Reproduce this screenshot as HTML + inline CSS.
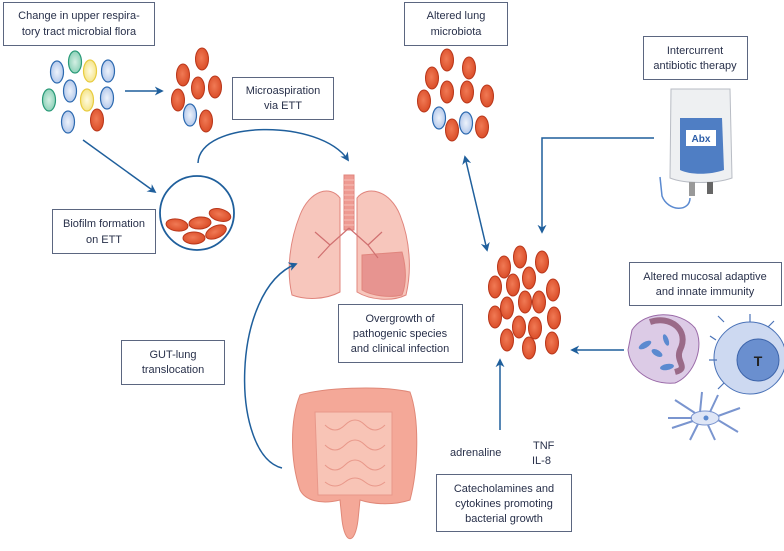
<!DOCTYPE html>
<html><head><meta charset="utf-8"><style>
html,body{margin:0;padding:0;background:#fff}
svg{display:block}
text{font-family:"Liberation Sans",sans-serif;font-size:11px;fill:#28304a}
.bx{fill:#fff;stroke:#5b6680;stroke-width:1}
.ar{fill:none;stroke:#1f5f9c;stroke-width:1.5}
.r{fill:url(#gr);stroke:#b8361a;stroke-width:1}
.b{fill:url(#gb);stroke:#2d6ab0;stroke-width:1.2}
.g{fill:url(#gg);stroke:#2a9a78;stroke-width:1.2}
.y{fill:url(#gy);stroke:#e8cc40;stroke-width:1.2}
</style></head><body>
<svg width="784" height="551" viewBox="0 0 784 551" xmlns="http://www.w3.org/2000/svg">
<defs>
<marker id="ah" viewBox="0 0 10 10" refX="8" refY="5" markerWidth="6" markerHeight="6" orient="auto-start-reverse"><path d="M0,0 L10,5 L0,10 L3,5z" fill="#1f5f9c"/></marker>
<radialGradient id="gr" cx="0.45" cy="0.45" r="0.6"><stop offset="0" stop-color="#f07a55"/><stop offset="1" stop-color="#d94a25"/></radialGradient>
<radialGradient id="gb" cx="0.5" cy="0.5" r="0.6"><stop offset="0" stop-color="#eef3fb"/><stop offset="1" stop-color="#a9c1e8"/></radialGradient>
<radialGradient id="gg" cx="0.5" cy="0.5" r="0.6"><stop offset="0" stop-color="#d4efe3"/><stop offset="1" stop-color="#7fcbb0"/></radialGradient>
<radialGradient id="gy" cx="0.5" cy="0.5" r="0.6"><stop offset="0" stop-color="#fffbe0"/><stop offset="1" stop-color="#f3e07a"/></radialGradient>
</defs>

<rect class="bx" x="3.5" y="2.5" width="151" height="43"/>
<text x="79" y="19" text-anchor="middle">Change in upper respira-</text>
<text x="79" y="35" text-anchor="middle">tory tract microbial flora</text>

<rect class="bx" x="232.5" y="77.5" width="101" height="42"/>
<text x="283" y="94" text-anchor="middle">Microaspiration</text>
<text x="283" y="109" text-anchor="middle">via ETT</text>

<rect class="bx" x="52.5" y="209.5" width="103" height="44"/>
<text x="104" y="227" text-anchor="middle">Biofilm formation</text>
<text x="104" y="243" text-anchor="middle">on ETT</text>

<rect class="bx" x="404.5" y="2.5" width="103" height="43"/>
<text x="456" y="19" text-anchor="middle">Altered lung</text>
<text x="456" y="35" text-anchor="middle">microbiota</text>

<rect class="bx" x="643.5" y="36.5" width="104" height="43"/>
<text x="695" y="54" text-anchor="middle">Intercurrent</text>
<text x="695" y="69" text-anchor="middle">antibiotic therapy</text>

<rect class="bx" x="338.5" y="304.5" width="124" height="58"/>
<text x="400" y="322" text-anchor="middle">Overgrowth of</text>
<text x="400" y="337" text-anchor="middle">pathogenic species</text>
<text x="400" y="352" text-anchor="middle">and clinical infection</text>

<rect class="bx" x="121.5" y="340.5" width="103" height="44"/>
<text x="173" y="358" text-anchor="middle">GUT-lung</text>
<text x="173" y="373" text-anchor="middle">translocation</text>

<rect class="bx" x="629.5" y="262.5" width="152" height="43"/>
<text x="705" y="280" text-anchor="middle">Altered mucosal adaptive</text>
<text x="705" y="295" text-anchor="middle">and innate immunity</text>

<rect class="bx" x="436.5" y="474.5" width="135" height="57"/>
<text x="504" y="492" text-anchor="middle">Catecholamines and</text>
<text x="504" y="507" text-anchor="middle">cytokines promoting</text>
<text x="504" y="522" text-anchor="middle">bacterial growth</text>

<text x="450" y="456">adrenaline</text>
<text x="533" y="449">TNF</text>
<text x="532" y="464">IL-8</text>

<ellipse class="b" cx="57" cy="72" rx="6.5" ry="11"/>
<ellipse class="g" cx="75" cy="62" rx="6.5" ry="11"/>
<ellipse class="y" cx="90" cy="71" rx="6.5" ry="11"/>
<ellipse class="b" cx="108" cy="71" rx="6.5" ry="11"/>
<ellipse class="b" cx="70" cy="91" rx="6.5" ry="11"/>
<ellipse class="y" cx="87" cy="100" rx="6.5" ry="11"/>
<ellipse class="b" cx="107" cy="98" rx="6.5" ry="11"/>
<ellipse class="g" cx="49" cy="100" rx="6.5" ry="11"/>
<ellipse class="b" cx="68" cy="122" rx="6.5" ry="11"/>
<ellipse class="r" cx="97" cy="120" rx="6.5" ry="11"/>
<ellipse class="r" cx="202" cy="59" rx="6.5" ry="11"/>
<ellipse class="r" cx="183" cy="75" rx="6.5" ry="11"/>
<ellipse class="r" cx="198" cy="88" rx="6.5" ry="11"/>
<ellipse class="r" cx="215" cy="87" rx="6.5" ry="11"/>
<ellipse class="r" cx="178" cy="100" rx="6.5" ry="11"/>
<ellipse class="b" cx="190" cy="115" rx="6.5" ry="11"/>
<ellipse class="r" cx="206" cy="121" rx="6.5" ry="11"/>

<line class="ar" x1="125" y1="91" x2="162" y2="91" marker-end="url(#ah)"/>
<line class="ar" x1="83" y1="140" x2="155" y2="192" marker-end="url(#ah)"/>

<circle cx="197" cy="213" r="37" fill="#fff" stroke="#1f5f9c" stroke-width="1.8"/>
<ellipse class="r" cx="177" cy="225" rx="11" ry="6" transform="rotate(8 177 225)"/>
<ellipse class="r" cx="200" cy="223" rx="11" ry="6" transform="rotate(-5 200 223)"/>
<ellipse class="r" cx="220" cy="215" rx="11" ry="6" transform="rotate(15 220 215)"/>
<ellipse class="r" cx="216" cy="232" rx="11" ry="6" transform="rotate(-25 216 232)"/>
<ellipse class="r" cx="194" cy="238" rx="11" ry="6"/>

<path class="ar" d="M198,163 C200,120 320,118 348,160" marker-end="url(#ah)"/>

<g stroke="#e0857d" stroke-width="1">
<path d="M340,198 C330,185 310,190 300,215 C290,240 286,270 292,295 C305,300 325,300 340,292 Z" fill="#f7c6bc"/>
<path d="M357,198 C367,185 390,190 400,215 C410,240 412,270 406,295 C392,302 370,300 357,292 Z" fill="#f7c6bc"/>
<path d="M362,255 L402,252 C407,270 406,285 402,295 C390,298 372,296 362,290 Z" fill="#e79490"/>
<rect x="344" y="175" width="10" height="55" fill="#ee9a92"/>
</g>
<path d="M344,180h10M344,185h10M344,190h10M344,195h10M344,200h10M344,205h10M344,210h10M344,215h10M344,220h10M344,225h10" stroke="#f6c0b8" stroke-width="1"/>
<path d="M349,228 L330,245 M330,245 L315,232 M330,245 L318,258 M349,228 L368,245 M368,245 L382,232 M368,245 L378,258" stroke="#d07070" stroke-width="1.2" fill="none"/>

<ellipse class="r" cx="447" cy="60" rx="6.5" ry="11"/>
<ellipse class="r" cx="469" cy="68" rx="6.5" ry="11"/>
<ellipse class="r" cx="432" cy="78" rx="6.5" ry="11"/>
<ellipse class="r" cx="447" cy="92" rx="6.5" ry="11"/>
<ellipse class="r" cx="467" cy="92" rx="6.5" ry="11"/>
<ellipse class="r" cx="487" cy="96" rx="6.5" ry="11"/>
<ellipse class="r" cx="424" cy="101" rx="6.5" ry="11"/>
<ellipse class="b" cx="439" cy="118" rx="6.5" ry="11"/>
<ellipse class="r" cx="452" cy="130" rx="6.5" ry="11"/>
<ellipse class="b" cx="466" cy="123" rx="6.5" ry="11"/>
<ellipse class="r" cx="482" cy="127" rx="6.5" ry="11"/>

<line class="ar" x1="465" y1="157" x2="487" y2="250" marker-start="url(#ah)" marker-end="url(#ah)"/>

<path class="ar" d="M654,138 L542,138 L542,232" marker-end="url(#ah)"/>

<path d="M690,198 C690,212 668,212 662,196 L660,177" fill="none" stroke="#5b8ad0" stroke-width="1.5"/>
<path d="M671,89 L730,89 L732,178 C715,184 685,184 670,178 Z" fill="#eef0f2" stroke="#b8bcc4"/>
<path d="M680,118 L722,118 L724,170 C710,175 690,175 680,170 Z" fill="#4f7ec4"/>
<rect x="686" y="130" width="30" height="16" fill="#fff"/>
<text x="701" y="142" text-anchor="middle" style="font-weight:bold;font-size:10px;fill:#2d5ea8">Abx</text>
<rect x="689" y="182" width="6" height="14" fill="#999"/>
<rect x="707" y="182" width="6" height="12" fill="#666"/>

<g>
<ellipse class="r" cx="520" cy="257" rx="6.5" ry="11"/>
<ellipse class="r" cx="542" cy="262" rx="6.5" ry="11"/>
<ellipse class="r" cx="504" cy="267" rx="6.5" ry="11"/>
<ellipse class="r" cx="529" cy="278" rx="6.5" ry="11"/>
<ellipse class="r" cx="495" cy="287" rx="6.5" ry="11"/>
<ellipse class="r" cx="513" cy="285" rx="6.5" ry="11"/>
<ellipse class="r" cx="553" cy="290" rx="6.5" ry="11"/>
<ellipse class="r" cx="525" cy="302" rx="6.5" ry="11"/>
<ellipse class="r" cx="539" cy="302" rx="6.5" ry="11"/>
<ellipse class="r" cx="507" cy="308" rx="6.5" ry="11"/>
<ellipse class="r" cx="495" cy="317" rx="6.5" ry="11"/>
<ellipse class="r" cx="554" cy="318" rx="6.5" ry="11"/>
<ellipse class="r" cx="519" cy="327" rx="6.5" ry="11"/>
<ellipse class="r" cx="535" cy="328" rx="6.5" ry="11"/>
<ellipse class="r" cx="507" cy="340" rx="6.5" ry="11"/>
<ellipse class="r" cx="529" cy="348" rx="6.5" ry="11"/>
<ellipse class="r" cx="552" cy="343" rx="6.5" ry="11"/>
</g>

<line class="ar" x1="624" y1="350" x2="572" y2="350" marker-end="url(#ah)"/>
<line class="ar" x1="500" y1="430" x2="500" y2="360" marker-end="url(#ah)"/>

<path class="ar" d="M282,468 C230,455 230,290 296,264" marker-end="url(#ah)"/>

<path d="M300,395 C320,388 380,385 410,392 C420,420 418,470 410,500 C395,505 375,505 360,500 L358,520 C355,545 345,545 342,520 L340,500 C320,505 305,500 300,490 C290,460 290,420 300,395 Z" fill="#f4a898" stroke="#e08878"/>
<path d="M315,412 L392,412 L392,495 L318,495 Z" fill="#f8c4b6" stroke="#e8988a"/>
<path d="M325,425 q10,10 20,0 t20,0 t20,0 M325,445 q10,10 20,0 t20,0 t20,0 M325,465 q10,10 20,0 t20,0 t20,0 M325,482 q10,8 20,0 t20,0 t20,0" fill="none" stroke="#e8988a"/>

<path d="M632,330 C645,310 680,310 695,328 C705,345 695,375 675,383 C650,385 630,370 628,350 Z" fill="#dccbe6" stroke="#9a6aa8"/>
<path d="M650,322 C670,315 690,330 680,350 C675,362 690,368 675,372" fill="none" stroke="#9a6a88" stroke-width="6"/>
<g fill="#5b8ad0"><ellipse cx="645" cy="345" rx="7" ry="3" transform="rotate(-30 645 345)"/><ellipse cx="657" cy="353" rx="6" ry="3" transform="rotate(30 657 353)"/><ellipse cx="666" cy="340" rx="6" ry="2.5" transform="rotate(70 666 340)"/><ellipse cx="667" cy="367" rx="7" ry="3" transform="rotate(-10 667 367)"/></g>

<circle cx="750" cy="358" r="36" fill="#cdd9f1" stroke="#4b73b8"/>
<circle cx="758" cy="360" r="21" fill="#6a8fcf" stroke="#3d64aa"/>
<text x="758" y="366" text-anchor="middle" style="font-weight:bold;font-size:14px;fill:#222">T</text>
<path d="M716,340 l-6,-4 M724,322 l-6,-6 M750,322 l0,-8 M768,327 l6,-6 M717,360 l-8,0 M724,383 l-6,6" stroke="#4b73b8" stroke-width="1.2"/>

<ellipse cx="705" cy="418" rx="14" ry="7" fill="#dfe6f6" stroke="#7a95cf"/>
<path d="M692,418 L668,418 M695,413 L675,400 M700,412 L702,392 M710,412 L718,395 M718,416 L740,408 M718,420 L738,432 M708,425 L715,440 M698,424 L690,440 M693,421 L672,428" stroke="#7a95cf" stroke-width="2" fill="none"/>
<circle cx="706" cy="418" r="2.5" fill="#5b8ad0"/>
</svg>
</body></html>
